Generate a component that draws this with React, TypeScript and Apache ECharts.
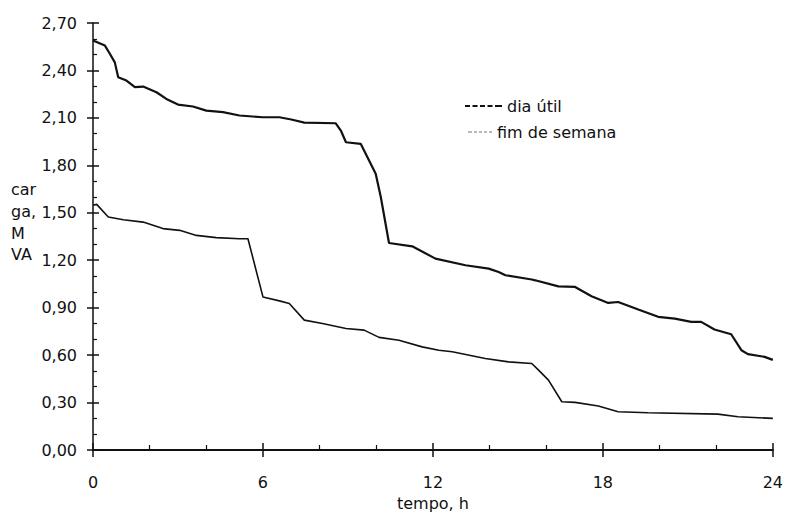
import React, { useEffect, useRef } from "react";
import * as echarts from "echarts";

// hours (h) and load (MVA)
const diaUtilHours = [0, 0.42, 0.6, 0.77, 0.89, 1.18, 1.48, 1.77, 2.24, 2.59, 3.0, 3.53, 4.0, 4.59, 5.17, 5.99, 6.58, 7.0, 7.46, 8.57, 8.75, 8.93, 9.45, 9.98, 10.16, 10.45, 11.27, 12.09, 13.15, 13.97, 14.32, 14.56, 15.49, 15.61, 16.43, 17.02, 17.6, 18.19, 18.54, 19.25, 19.95, 20.54, 21.12, 21.47, 21.94, 22.53, 22.89, 23.12, 23.71, 24.0];
const diaUtilValues = [2.59, 2.557, 2.504, 2.451, 2.357, 2.336, 2.294, 2.298, 2.262, 2.22, 2.184, 2.172, 2.146, 2.136, 2.115, 2.104, 2.104, 2.09, 2.07, 2.066, 2.02, 1.946, 1.936, 1.747, 1.6, 1.309, 1.288, 1.21, 1.168, 1.147, 1.126, 1.105, 1.078, 1.073, 1.035, 1.031, 0.972, 0.93, 0.936, 0.888, 0.842, 0.831, 0.81, 0.81, 0.762, 0.732, 0.631, 0.606, 0.589, 0.57];

const fimHours = [0, 0.13, 0.54, 1.07, 1.77, 2.47, 3.06, 3.65, 4.35, 5.17, 5.47, 6.0, 6.58, 6.93, 7.46, 8.1, 8.93, 9.57, 10.1, 10.8, 11.62, 12.21, 12.68, 13.85, 14.67, 15.49, 15.73, 16.08, 16.55, 17.02, 17.84, 18.54, 19.6, 22.06, 22.77, 24.0];
const fimValues = [1.547, 1.553, 1.473, 1.456, 1.441, 1.4, 1.389, 1.357, 1.343, 1.336, 1.336, 0.968, 0.943, 0.926, 0.821, 0.8, 0.768, 0.758, 0.712, 0.694, 0.652, 0.631, 0.621, 0.579, 0.557, 0.547, 0.505, 0.442, 0.305, 0.301, 0.278, 0.242, 0.236, 0.227, 0.21, 0.2];

const seriesNames = ["dia útil", "fim de semana"];
const xMin = 0, xMax = 24, xStep = 6;
const yMin = 0, yMax = 2.7, yStep = 0.3;
const yAxisTitle = "car\nga,\nM\nVA";
const xAxisTitle = "tempo, h";

const FONT = "DejaVu Sans";

export default function App() {
  const ref = useRef<HTMLDivElement>(null);
  useEffect(() => {
    if (!ref.current) return;
    const chart = echarts.init(ref.current, null, { renderer: "svg" });
    const fmtY = (v: number) => v.toFixed(2).replace(".", ",");
    const baseX = { type: "value", min: xMin, max: xMax, interval: xStep, splitLine: { show: false } };
    const baseY = { type: "value", min: yMin, max: yMax, interval: yStep, splitLine: { show: false } };
    chart.setOption({
      animation: false,
      backgroundColor: "#ffffff",
      textStyle: { fontFamily: FONT, color: "#111" },
      grid: { left: 93, right: 11, top: 23, bottom: 71 },
      xAxis: [
        {
          ...baseX,
          name: xAxisTitle,
          nameLocation: "middle",
          nameGap: 45,
          nameTextStyle: { fontFamily: FONT, fontSize: 16, color: "#111" },
          axisLine: { show: true, lineStyle: { color: "#111", width: 2 } },
          axisTick: { show: true, inside: true, length: 7, lineStyle: { color: "#111", width: 1.5 } },
          minorTick: { show: true, splitNumber: 3, length: 5, lineStyle: { color: "#111", width: 1.2 } },
          axisLabel: { margin: 24, fontFamily: FONT, fontSize: 16, color: "#111" },
        },
        {
          ...baseX,
          position: "bottom",
          axisLine: { show: false },
          axisTick: { show: true, inside: false, length: 7, lineStyle: { color: "#111", width: 1.5 } },
          axisLabel: { show: false },
        },
      ],
      yAxis: [
        {
          ...baseY,
          axisLine: { show: true, lineStyle: { color: "#111", width: 1.5 } },
          axisTick: { show: true, inside: true, length: 6, lineStyle: { color: "#111", width: 1.5 } },
          minorTick: { show: true, splitNumber: 3, length: 4, lineStyle: { color: "#111", width: 1.2 } },
          axisLabel: { margin: 16, fontFamily: FONT, fontSize: 16, color: "#111", formatter: fmtY },
        },
        {
          ...baseY,
          position: "left",
          offset: 0,
          axisLine: { show: false },
          axisTick: { show: true, inside: false, length: 6, lineStyle: { color: "#111", width: 1.5 } },
          axisLabel: { show: false },
        },
      ],
      legend: [
        {
          data: [{ name: seriesNames[0], itemStyle: { color: "#111" } }],
          left: 465,
          top: 98,
          padding: 0,
          orient: "vertical",
          itemWidth: 37,
          itemHeight: 3,
          icon: "path://M0,0h5v2h-5z M7.5,0h5v2h-5z M15,0h5v2h-5z M22.5,0h5v2h-5z M30,0h7v2h-7z",
          textStyle: { fontFamily: FONT, fontSize: 16, color: "#111" },
        },
        {
          data: [{ name: seriesNames[1], itemStyle: { color: "#777" } }],
          left: 468,
          top: 124,
          padding: 0,
          orient: "vertical",
          itemWidth: 24,
          itemHeight: 2,
          icon: "path://M0,0h4v1h-4z M6,0h3v1h-3z M11,0h3v1h-3z M16,0h3v1h-3z M21,0h3v1h-3z",
          textStyle: { fontFamily: FONT, fontSize: 16, color: "#111" },
        },
      ],
      graphic: [
        {
          type: "text",
          left: 11,
          top: 179,
          style: { text: yAxisTitle, fontFamily: FONT, fontSize: 16, lineHeight: 21.7, fill: "#111" },
        },
      ],
      series: [
        {
          name: seriesNames[0],
          type: "line",
          xAxisIndex: 0,
          yAxisIndex: 0,
          showSymbol: false,
          symbol: "none",
          data: diaUtilHours.map((h, i) => [h, diaUtilValues[i]]),
          lineStyle: { color: "#111", width: 2.2 },
          itemStyle: { color: "#111" },
        },
        {
          name: seriesNames[1],
          type: "line",
          xAxisIndex: 0,
          yAxisIndex: 0,
          showSymbol: false,
          symbol: "none",
          data: fimHours.map((h, i) => [h, fimValues[i]]),
          lineStyle: { color: "#111", width: 1.6 },
          itemStyle: { color: "#777" },
        },
      ],
    });
    return () => chart.dispose();
  }, []);
  return (
    <div
      ref={ref}
      style={{ position: "fixed", left: 0, top: 0, width: 786, height: 521, background: "#fff" }}
    />
  );
}
